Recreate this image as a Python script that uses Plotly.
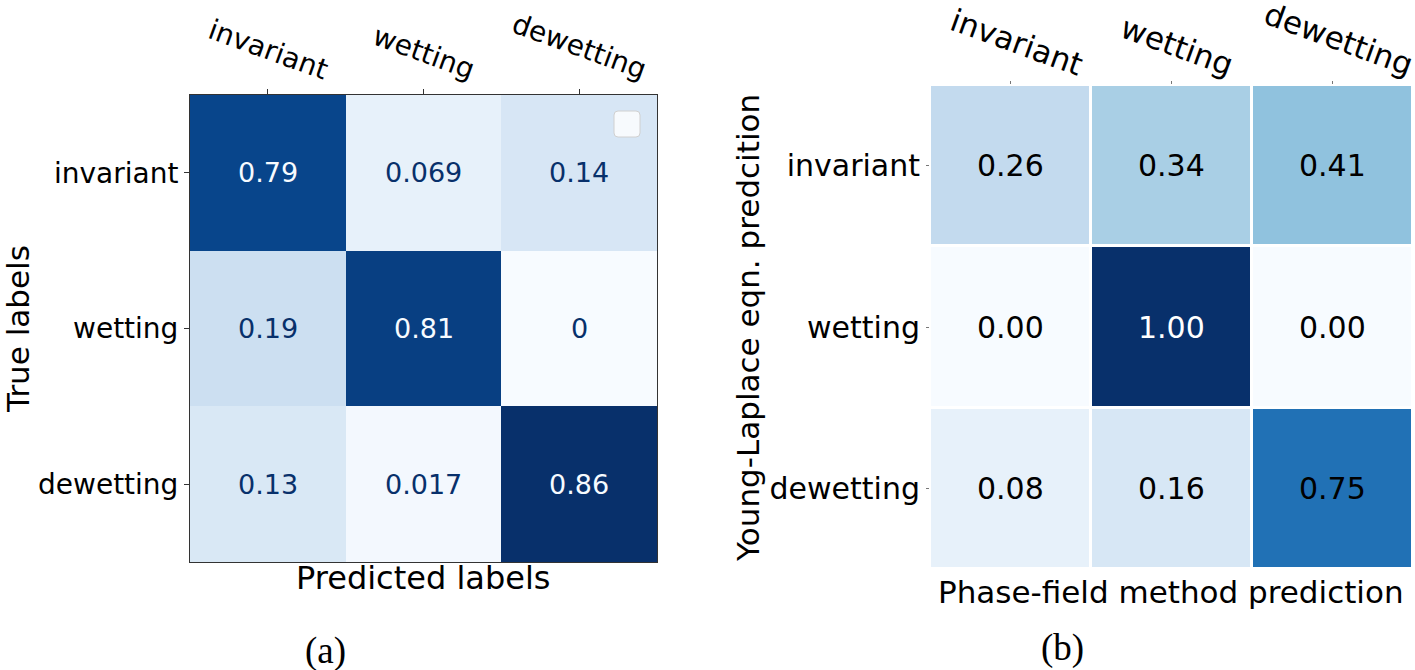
import plotly.graph_objects as go

# ---------------- data ----------------
labels = ["invariant", "wetting", "dewetting"]

# (a) normalised confusion matrix (rows: true, cols: predicted)
cm_a = [
    [0.79, 0.069, 0.14],
    [0.19, 0.81, 0.0],
    [0.13, 0.017, 0.86],
]

# (b) Young-Laplace eqn. prediction (rows) vs phase-field prediction (cols)
cm_b = [
    [0.26, 0.34, 0.41],
    [0.00, 1.00, 0.00],
    [0.08, 0.16, 0.75],
]

blues = ["#f7fbff", "#deebf7", "#c6dbef", "#9ecae1", "#6baed6",
         "#4292c6", "#2171b5", "#08519c", "#08306b"]
blues_scale = [[i / (len(blues) - 1), c] for i, c in enumerate(blues)]

W, H = 1415, 670
FONT = "DejaVu Sans"


def px(x):
    return x / W


def py(y):
    return 1 - y / H


fig = go.Figure()

fig.add_trace(go.Heatmap(
    z=cm_a, x=labels, y=labels, colorscale=blues_scale,
    zmin=min(min(r) for r in cm_a), zmax=max(max(r) for r in cm_a),
    showscale=False, xaxis="x", yaxis="y",
))
fig.add_trace(go.Heatmap(
    z=cm_b, x=labels, y=labels, colorscale=blues_scale,
    zmin=0, zmax=1, xgap=3, ygap=3,
    showscale=False, xaxis="x2", yaxis="y2",
))

annotations = []

# cell values (a): sklearn-style colouring
a_min = min(min(r) for r in cm_a)
a_max = max(max(r) for r in cm_a)
thr = (a_min + a_max) / 2
for i, row in enumerate(cm_a):
    for j, v in enumerate(row):
        annotations.append(dict(
            x=labels[j], y=labels[i], xref="x", yref="y",
            text=f"{v:.2g}", showarrow=False,
            font=dict(family=FONT, size=27,
                      color="#f7fbff" if v > thr else "#08306b"),
        ))

# cell values (b)
for i, row in enumerate(cm_b):
    for j, v in enumerate(row):
        annotations.append(dict(
            x=labels[j], y=labels[i], xref="x2", yref="y2",
            text=f"{v:.2f}", showarrow=False,
            font=dict(family=FONT, size=30,
                      color="white" if v >= 0.9 else "black"),
        ))

# rotated top tick labels
for lab in labels:
    annotations.append(dict(
        x=lab, xref="x", y=py(89), yref="paper", text=lab, textangle=20,
        showarrow=False, xanchor="center", yanchor="bottom",
        font=dict(family=FONT, size=28, color="black"),
    ))
    annotations.append(dict(
        x=lab, xref="x2", y=py(85), yref="paper", text=lab, textangle=20,
        showarrow=False, xanchor="center", yanchor="bottom", xshift=6,
        font=dict(family=FONT, size=31, color="black"),
    ))


def title(x, y, text, size, angle=0, family=FONT):
    return dict(x=px(x), y=py(y), xref="paper", yref="paper", text=text,
                textangle=angle, showarrow=False,
                xanchor="center", yanchor="middle",
                font=dict(family=family, size=size, color="black"))


annotations += [
    title(423, 578, "Predicted labels", 32),
    title(18, 329, "True labels", 31, -90),
    title(1171, 592, "Phase-field method prediction", 31),
    title(748, 328, "Young-Laplace eqn. predcition", 31, -90),
    title(325, 651, "(a)", 37, family="Liberation Serif"),
    title(1062, 648, "(b)", 37, family="Liberation Serif"),
]

# empty matplotlib legend box (rounded)
x0, x1, y0, y1, r = px(614), px(640), py(137), py(111), 4
rx, ry = r / W, r / H
legend_path = (
    f"M {x0+rx},{y0} L {x1-rx},{y0} Q {x1},{y0} {x1},{y0+ry} "
    f"L {x1},{y1-ry} Q {x1},{y1} {x1-rx},{y1} L {x0+rx},{y1} "
    f"Q {x0},{y1} {x0},{y1-ry} L {x0},{y0+ry} Q {x0},{y0} {x0+rx},{y0} Z"
)

fig.update_layout(
    width=W, height=H,
    margin=dict(l=0, r=0, t=0, b=0),
    paper_bgcolor="white", plot_bgcolor="white",
    font=dict(family=FONT, color="black"),
    annotations=annotations,
    shapes=[dict(type="path", path=legend_path, xref="paper", yref="paper",
                 fillcolor="rgba(255,255,255,0.8)",
                 line=dict(color="#d0d0d0", width=1))],
    xaxis=dict(domain=[px(190), px(657)], anchor="y", side="top",
               range=[-0.5, 2.5], showticklabels=False,
               ticks="outside", ticklen=5, tickcolor="#333", tickwidth=1,
               showline=True, mirror=True, linecolor="#333", linewidth=1,
               showgrid=False, zeroline=False),
    yaxis=dict(domain=[py(562), py(95)], anchor="x",
               range=[2.5, -0.5], ticks="outside", ticklen=5,
               tickcolor="#333", tickwidth=1,
               tickfont=dict(family=FONT, size=28, color="black"),
               showline=True, mirror=True, linecolor="#333", linewidth=1,
               showgrid=False, zeroline=False),
    xaxis2=dict(domain=[px(930), px(1413)], anchor="y2", side="top",
                range=[-0.5, 2.5], showticklabels=False,
                ticks="outside", ticklen=3, tickcolor="#777", tickwidth=1,
                showline=False, showgrid=False, zeroline=False),
    yaxis2=dict(domain=[py(569), py(85)], anchor="x2",
                range=[2.5, -0.5], ticks="outside", ticklen=3,
                tickcolor="#777", tickwidth=1,
                tickfont=dict(family=FONT, size=30, color="black"),
                showline=False, showgrid=False, zeroline=False),
)

# remove the default page margin so the figure fills the window exactly
fig.write_html("out.html",
               config={"displayModeBar": False},
               post_script="document.body.style.margin='0';")
